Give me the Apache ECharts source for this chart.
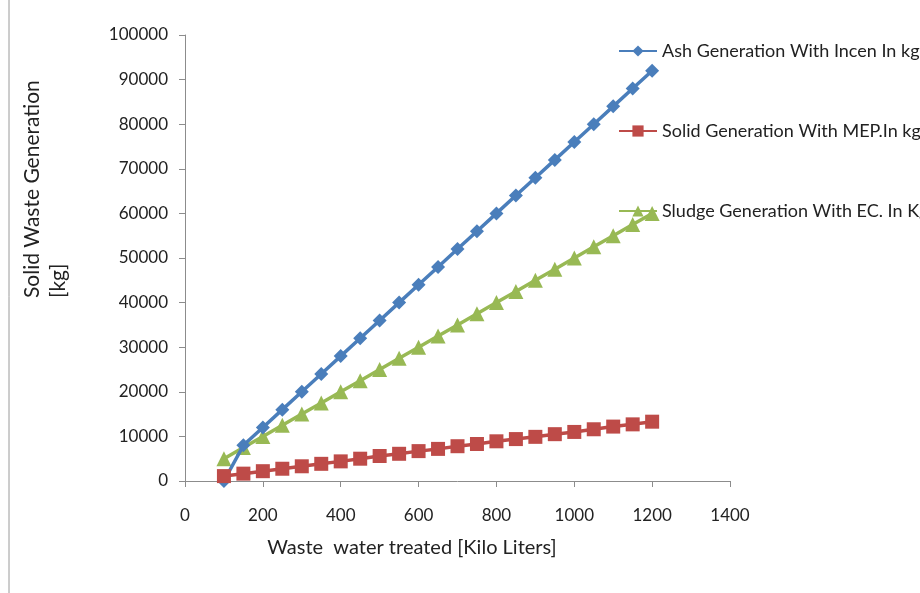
<!DOCTYPE html>
<html>
<head>
<meta charset="utf-8">
<script src="https://cdn.jsdelivr.net/npm/echarts@6/dist/echarts.min.js"></script>
<style>html,body{margin:0;padding:0;background:#fff}#c{width:920px;height:593px}</style>
</head>
<body>
<div id="c"></div>
<script>
var xValues = [100,150,200,250,300,350,400,450,500,550,600,650,700,750,800,850,900,950,1000,1050,1100,1150,1200];
var ashValues = [0,8000,12000,16000,20000,24000,28000,32000,36000,40000,44000,48000,52000,56000,60000,64000,68000,72000,76000,80000,84000,88000,92000];
var solidValues = [1100,1650,2200,2750,3300,3850,4400,5000,5600,6100,6700,7200,7800,8300,8900,9400,9900,10500,11000,11600,12200,12700,13300];
var sludgeValues = [5000,7500,10000,12500,15000,17500,20000,22500,25000,27500,30000,32500,35000,37500,40000,42500,45000,47500,50000,52500,55000,57500,60000];
var seriesNames = ['Ash Generation With Incen In kg','Solid Generation With MEP.In kg','Sludge Generation With EC. In Kg'];
var xTitle = 'Waste  water treated [Kilo Liters]';
var yTitle1 = 'Solid Waste Generation';
var yTitle2 = '[kg]';

function pairs(v){ return xValues.map(function(x,i){ return [x, v[i]]; }); }
var font = 'Lato, "Open Sans", sans-serif';
var chart = echarts.init(document.getElementById('c'), null, {renderer:'canvas'});
chart.setOption({
  animation:false,
  backgroundColor:'#fff',
  textStyle:{fontFamily:font},
  grid:{left:185, right:190, top:35, bottom:112, containLabel:false},
  legend:{
    orient:'vertical', left:613, top:37, itemGap:62, itemWidth:38, itemHeight:14,
    textStyle:{fontFamily:font, fontSize:18, color:'#222'},
    data:seriesNames
  },
  xAxis:{
    type:'value', min:0, max:1400, interval:200,
    axisLine:{show:true, lineStyle:{color:'#8c8c8c', width:1}},
    axisTick:{show:true, length:6, lineStyle:{color:'#8c8c8c'}},
    axisLabel:{fontSize:17, color:'#222', margin:26, fontFamily:font, formatter:function(v){return String(v);}},
    splitLine:{show:false}
  },
  yAxis:{
    type:'value', min:0, max:100000, interval:10000,
    axisLine:{show:true, lineStyle:{color:'#8c8c8c', width:1}},
    axisTick:{show:true, length:6, lineStyle:{color:'#8c8c8c'}},
    axisLabel:{fontSize:17, color:'#222', margin:17, fontFamily:font, formatter:function(v){return String(v);}},
    splitLine:{show:false}
  },
  graphic:[
    {type:'line', shape:{x1:9,y1:0,x2:9,y2:593}, style:{stroke:'#9a9a9a', lineWidth:1}},
    {type:'text', x:412, y:548, style:{text:xTitle, font:'20px '+font, fill:'#222', textAlign:'center', textVerticalAlign:'middle'}},
    {type:'text', x:32, y:298, rotation:Math.PI/2, style:{text:yTitle1, font:'21px '+font, fill:'#222', textAlign:'left', textVerticalAlign:'middle'}},
    {type:'text', x:58, y:298, rotation:Math.PI/2, style:{text:yTitle2, font:'21px '+font, fill:'#222', textAlign:'left', textVerticalAlign:'middle'}}
  ],
  series:[
    {name:seriesNames[0], type:'line', data:pairs(ashValues), symbol:'diamond', symbolSize:14,
      lineStyle:{width:3.5, color:'#4a7ebb'}, itemStyle:{color:'#4a7ebb'}, z:3},
    {name:seriesNames[1], type:'line', data:pairs(solidValues), symbol:'rect', symbolSize:14,
      lineStyle:{width:3.5, color:'#be4b48'}, itemStyle:{color:'#be4b48'}, z:4},
    {name:seriesNames[2], type:'line', data:pairs(sludgeValues), symbol:'triangle', symbolSize:15,
      lineStyle:{width:3.5, color:'#98b954'}, itemStyle:{color:'#98b954'}, z:2}
  ]
});
</script>
</body>
</html>
